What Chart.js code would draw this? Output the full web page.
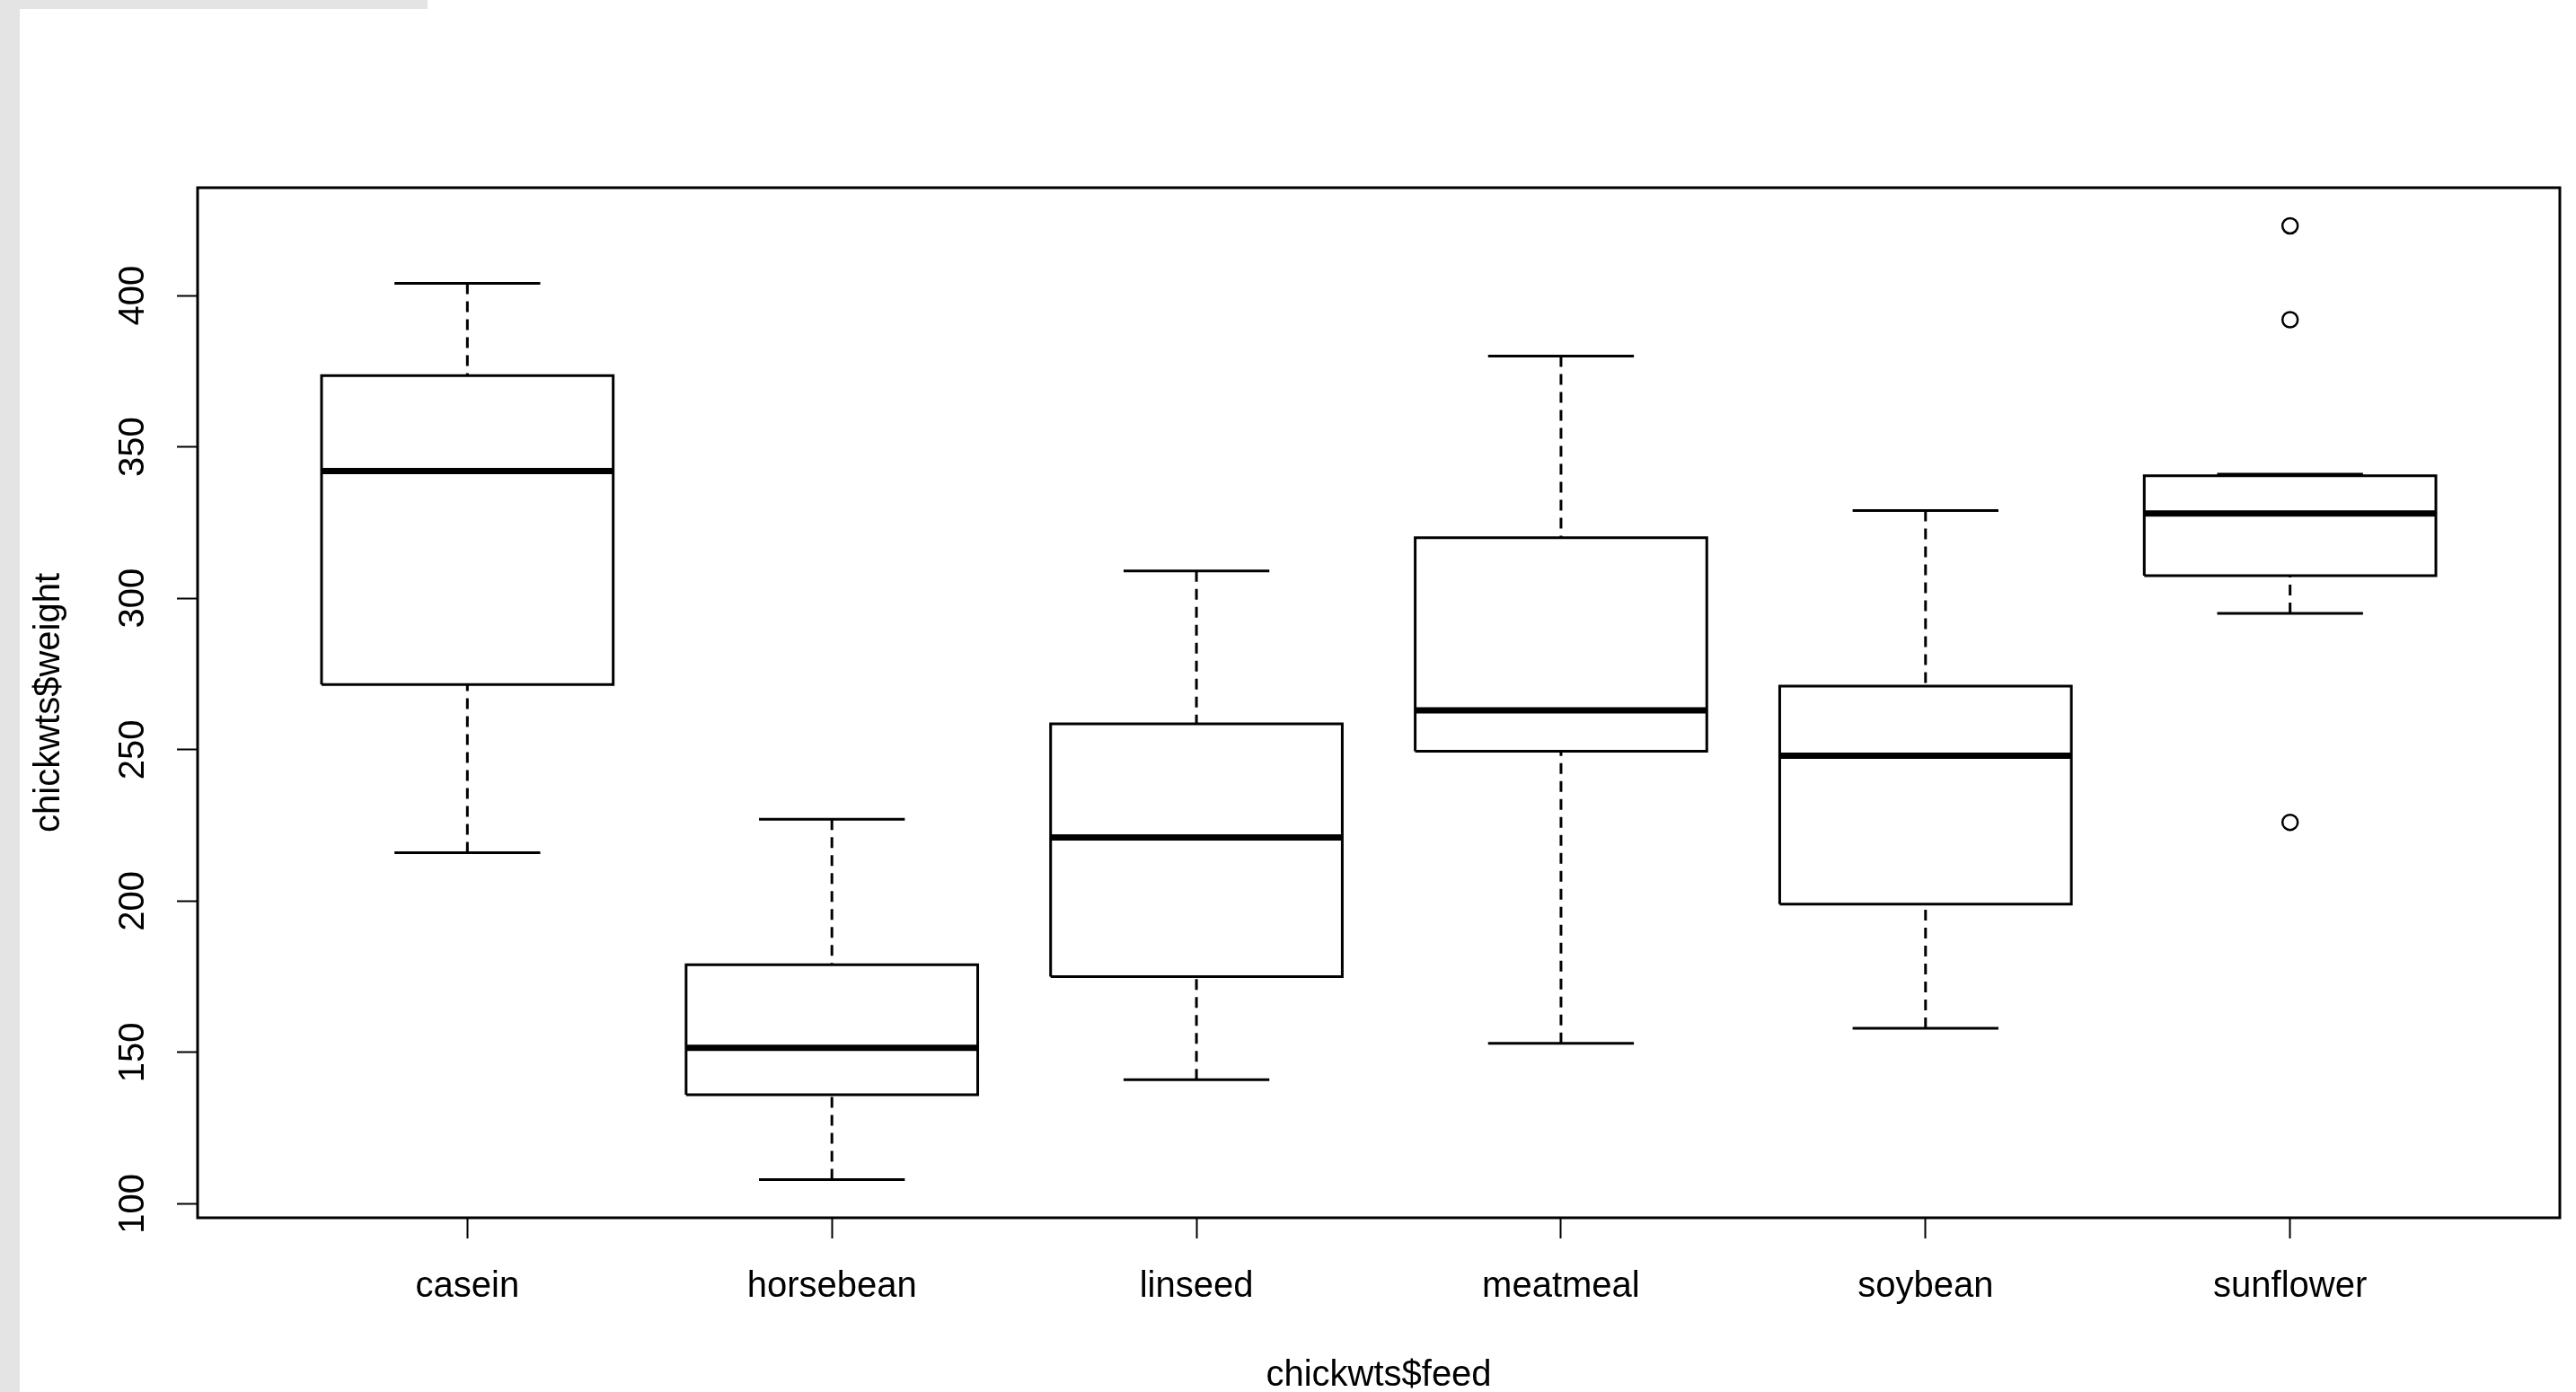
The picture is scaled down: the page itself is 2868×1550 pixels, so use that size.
<!DOCTYPE html>
<html>
<head>
<meta charset="utf-8">
<script src="https://cdn.jsdelivr.net/npm/chart.js@4"></script>
<style>
  html, body { margin: 0; padding: 0; background: #fff; overflow: hidden; }
  .strip { position: absolute; background: #e4e4e4; }
  #wrap { position: absolute; left: 0; top: 0; width: 2868px; height: 1550px; }
</style>
</head>
<body>
<div class="strip" style="left:0;top:0;width:22px;height:1550px"></div>
<div class="strip" style="left:0;top:0;width:476px;height:10px"></div>
<div id="wrap"><canvas id="box"></canvas></div>
<script>
// chickwts boxplot: weight by feed
const feeds = ["casein", "horsebean", "linseed", "meatmeal", "soybean", "sunflower"];
const whiskerLow = [216, 108, 141, 153, 158, 295];
const hingeLow = [271.5, 136, 175, 249.5, 199, 307.5];
const medians = [342, 151.5, 221, 263, 248, 328];
const hingeHigh = [373.5, 179, 258.5, 320, 271, 340.5];
const whiskerHigh = [404, 227, 309, 380, 329, 341];
const outlierFeed = ["sunflower", "sunflower", "sunflower"];
const outlierWeight = [423, 392, 226];
const yTicks = [100, 150, 200, 250, 300, 350, 400];

const HALF_BOX = 0.4;
const HALF_CAP = 0.2;

// build segment lists, a null point breaks the line
const boxPts = [];
const medianPts = [];
const whiskerPts = [];
const capPts = [];
feeds.forEach((f, i) => {
  const x = i + 1;
  const l = x - HALF_BOX, r = x + HALF_BOX;
  boxPts.push(
    { x: l, y: hingeLow[i] }, { x: r, y: hingeLow[i] }, { x: r, y: hingeHigh[i] },
    { x: l, y: hingeHigh[i] }, { x: l, y: hingeLow[i] }, { x: x, y: null }
  );
  medianPts.push({ x: l, y: medians[i] }, { x: r, y: medians[i] }, { x: x, y: null });
  whiskerPts.push({ x: x, y: whiskerHigh[i] }, { x: x, y: hingeHigh[i] }, { x: x, y: null });
  whiskerPts.push({ x: x, y: whiskerLow[i] }, { x: x, y: hingeLow[i] }, { x: x, y: null });
  capPts.push({ x: x - HALF_CAP, y: whiskerHigh[i] }, { x: x + HALF_CAP, y: whiskerHigh[i] }, { x: x, y: null });
  capPts.push({ x: x - HALF_CAP, y: whiskerLow[i] }, { x: x + HALF_CAP, y: whiskerLow[i] }, { x: x, y: null });
});
const outliers = outlierWeight.map((w, i) => ({ x: feeds.indexOf(outlierFeed[i]) + 1, y: w }));

// plot frame like R's box()
const framePlugin = {
  id: "frame",
  afterDraw(chart) {
    const { ctx, chartArea: a } = chart;
    ctx.save();
    ctx.strokeStyle = "#000";
    ctx.lineWidth = 3;
    ctx.strokeRect(a.left, a.top, a.right - a.left, a.bottom - a.top);
    ctx.restore();
  },
};

Chart.defaults.font.family = "'Liberation Sans', Arial, sans-serif";
Chart.defaults.font.size = 40;
Chart.defaults.color = "#000";

const lineBase = {
  type: "line",
  pointRadius: 0,
  pointHitRadius: 0,
  borderColor: "#000",
  fill: false,
  spanGaps: false,
  borderJoinStyle: "miter",
};

new Chart(document.getElementById("box"), {
  type: "line",
  data: {
    datasets: [
      { ...lineBase, data: medianPts, borderWidth: 7, order: 0 },
      { ...lineBase, data: boxPts, borderWidth: 3, order: 1 },
      { ...lineBase, data: capPts, borderWidth: 3, order: 2 },
      { ...lineBase, data: whiskerPts, borderWidth: 3, borderDash: [12, 8], order: 3 },
      {
        type: "scatter",
        data: outliers,
        pointStyle: "circle",
        pointRadius: 8.5,
        borderWidth: 2.5,
        borderColor: "#000",
        backgroundColor: "#fff",
        order: 0,
      },
    ],
  },
  options: {
    responsive: true,
    maintainAspectRatio: false,
    animation: false,
    layout: { padding: { top: 209, right: 18, left: 0, bottom: 0 } },
    plugins: { legend: { display: false }, tooltip: { enabled: false } },
    scales: {
      x: {
        type: "linear",
        min: 0.26,
        max: 6.74,
        offset: false,
        afterBuildTicks: (s) => { s.ticks = feeds.map((f, i) => ({ value: i + 1 })); },
        afterFit: (s) => { s.height = 194; },
        ticks: { callback: (v) => feeds[v - 1], padding: 30, maxRotation: 0 },
        grid: { offset: false, drawOnChartArea: false, tickLength: 23, tickWidth: 2, tickColor: "#000" },
        border: { display: false },
        title: { display: true, text: "chickwts$feed", padding: 0, font: { lineHeight: 0.9 } },
      },
      y: {
        type: "linear",
        min: 95.4,
        max: 435.6,
        afterBuildTicks: (s) => { s.ticks = yTicks.map((v) => ({ value: v })); },
        afterFit: (s) => { s.width = 220; },
        ticks: { minRotation: 90, maxRotation: 90, crossAlign: "center", padding: 15 },
        grid: { drawOnChartArea: false, tickLength: 23, tickWidth: 2, tickColor: "#000" },
        border: { display: false },
        title: { display: true, text: "chickwts$weight", padding: { top: 31, bottom: 0 } },
      },
    },
  },
  plugins: [framePlugin],
});
</script>
</body>
</html>
